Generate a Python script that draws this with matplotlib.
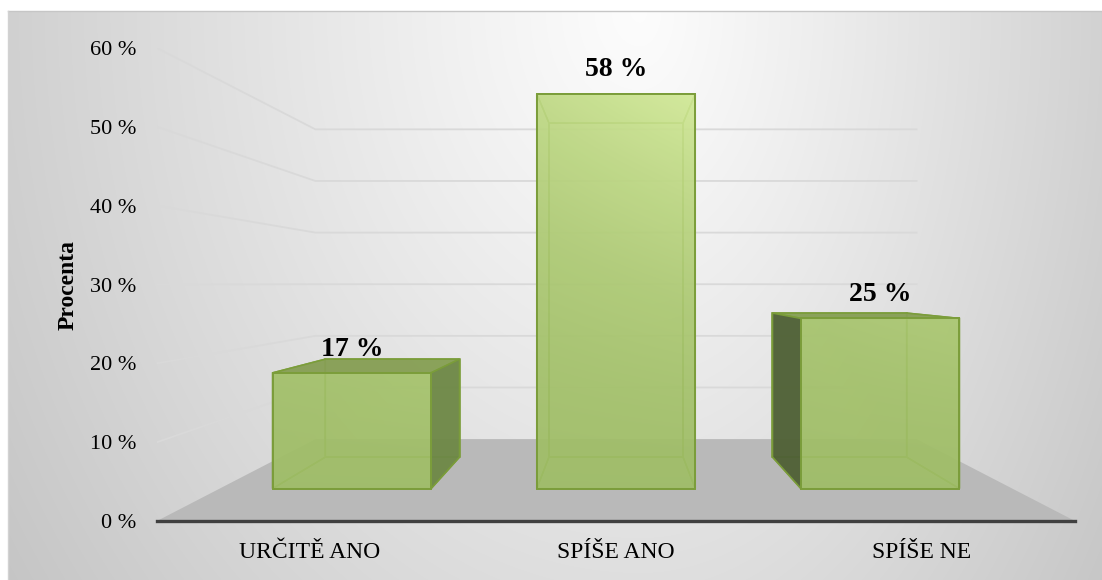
import numpy as np
import matplotlib.pyplot as plt
from matplotlib.patches import Polygon

categories = ["URČITĚ ANO", "SPÍŠE ANO", "SPÍŠE NE"]
values = [17, 58, 25]
y_ticks = [0, 10, 20, 30, 40, 50, 60]

plt.rcParams['font.family'] = ['Liberation Serif', 'DejaVu Serif']

# fake 3D: the front plane is in data units, deeper points shrink towards the eye point
eye_x, eye_y = 1.0, 30.1
depth_k = 0.527
bar_w = 0.6
d0, d1 = 0.3, 0.7

front_lo = np.array([0.627, 0.745, 0.404])
front_hi = np.array([0.84, 0.93, 0.61])
edge_col = '#7b9d3a'


def proj(x, y, d):
    s = 1.0 / (1.0 + depth_k * d)
    return eye_x + (x - eye_x) * s, eye_y + (y - eye_y) * s


def face(pts):
    return [proj(*p) for p in pts]


W, H = 1102, 580
fig = plt.figure(figsize=(W / 100, H / 100), dpi=100)

# chart area background, radial grey gradient
bg = fig.add_axes([0, 0, 1, 1])
xx, yy = np.meshgrid(np.arange(8, W) + 0.5, np.arange(11, H) + 0.5)
dx = (xx - 640) / np.where(xx < 640, 620, 470)
dy = (yy - 10) / 800
r = np.hypot(dx, dy)
g = np.clip(0.99 - 0.17 * r ** 1.1, 0, 1)
bg.imshow(np.dstack([g, g, g]), extent=(8, W, H, 11), interpolation='bilinear', aspect='auto')
bg.plot([8, W], [11, 11], color='#c6c6c6', lw=1)
bg.plot([8, 8], [11, H], color='#d2d2d2', lw=1)
bg.set_xlim(0, W)
bg.set_ylim(H, 0)
bg.axis('off')

ax = fig.add_axes([157 / W, (H - 521) / H, 918 / W, 473 / H])
ax.patch.set_visible(False)

# floor
floor = face([(-0.5, 0, 0), (2.5, 0, 0), (2.5, 0, 1), (-0.5, 0, 1)])
ax.add_patch(Polygon(floor, closed=True, fc='#b9b9b9', ec='none', zorder=1))

# gridlines on the side wall and the back wall
for t in y_ticks[1:]:
    pts = face([(-0.5, t, 0), (-0.5, t, 1), (2.5, t, 1)])
    xs, ys = zip(*pts)
    ax.plot(xs, ys, color='#d9d9d9', lw=1.3, zorder=1.5)

for i, v in enumerate(values):
    x0, x1 = i - bar_w / 2, i + bar_w / 2
    back = face([(x0, 0, d1), (x1, 0, d1), (x1, v, d1), (x0, v, d1)])
    bottom = face([(x0, 0, d0), (x1, 0, d0), (x1, 0, d1), (x0, 0, d1)])
    top = face([(x0, v, d0), (x1, v, d0), (x1, v, d1), (x0, v, d1)])
    left = face([(x0, 0, d0), (x0, v, d0), (x0, v, d1), (x0, 0, d1)])
    right = face([(x1, 0, d0), (x1, v, d0), (x1, v, d1), (x1, 0, d1)])

    shown = []
    hidden = [back, bottom]
    if v < eye_y:
        shown.append((top, '#879f55'))
    else:
        hidden.append(top)
    if x1 < eye_x:
        shown.append((right, '#6e8847'))
    else:
        hidden.append(right)
    if x0 > eye_x:
        shown.append((left, '#4f6036'))
    else:
        hidden.append(left)

    for pts in hidden:
        ax.add_patch(Polygon(pts, closed=True, fc=(*front_lo, 0.35), ec=edge_col, lw=1.1, zorder=2))
    for pts, c in shown:
        ax.add_patch(Polygon(pts, closed=True, fc=c, ec=edge_col, lw=1.2, alpha=0.95, zorder=3))

    # front face with a light gradient towards the top right
    fx0, fy0 = proj(x0, 0, d0)
    fx1, fy1 = proj(x1, v, d0)
    rows = np.linspace(1, 0, 120)[:, None] * v / 60
    cols = np.linspace(0, 1, 60)[None, :]
    t = np.clip(0.65 * rows ** 1.8 + 0.35 * cols * rows ** 1.5, 0, 1)
    img = front_lo + (front_hi - front_lo) * t[..., None]
    ax.imshow(img, extent=(fx0, fx1, fy0, fy1), origin='upper', aspect='auto',
              interpolation='bilinear', alpha=0.9, zorder=3.5)
    ax.add_patch(Polygon(face([(x0, 0, d0), (x1, 0, d0), (x1, v, d0), (x0, v, d0)]),
                         closed=True, fc='none', ec=edge_col, lw=1.4, zorder=4))

    lx, ly = proj(i, v, d0)
    ax.annotate(f"{v} %", (lx, ly), xytext=(0, 12.5), textcoords='offset points',
                ha='center', va='baseline', fontsize=20, fontweight='bold', zorder=6)

ax.set_xlim(-0.5, 2.5)
ax.set_ylim(0, 60)
ax.set_yticks(y_ticks, [f"{t} %" for t in y_ticks])
ax.set_xticks(range(len(categories)), categories)
ax.tick_params(length=0)
ax.tick_params(axis='y', pad=15, labelsize=16)
ax.tick_params(axis='x', pad=15, labelsize=17)
for s in ['top', 'right', 'left']:
    ax.spines[s].set_visible(False)
ax.spines['bottom'].set_color('#404040')
ax.spines['bottom'].set_linewidth(2.4)
ax.set_ylabel('Procenta', fontsize=17, fontweight='bold', labelpad=8)

fig.savefig('out.png', dpi=100)
